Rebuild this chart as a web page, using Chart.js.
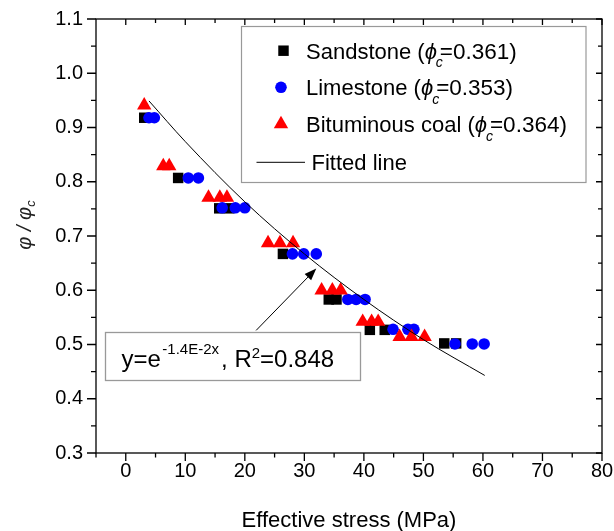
<!DOCTYPE html>
<html>
<head>
<meta charset="UTF-8">
<title>Porosity ratio vs effective stress</title>
<script src="https://cdn.jsdelivr.net/npm/chart.js"></script>
<style>
  body { margin: 0; background: #fff; }
  canvas { display: block; }
</style>
</head>
<body>
<canvas id="stressChart" width="614" height="531"></canvas>
<script>
// axis ticks
const xTicks = [0, 10, 20, 30, 40, 50, 60, 70, 80];
const yTicks = [0.3, 0.4, 0.5, 0.6, 0.7, 0.8, 0.9, 1.0, 1.1];

const sandX = [3.1, 8.8, 15.7, 17.4, 26.4, 34.1, 35.4, 41.0, 43.5, 53.5, 55.5];
const sandY = [0.918, 0.807, 0.751, 0.751, 0.667, 0.583, 0.583, 0.527, 0.527, 0.502, 0.502];
const limeX = [3.9, 4.8, 10.5, 12.2, 16.2, 18.4, 20.0, 28.0, 29.9, 32.0, 37.3, 38.7, 40.2, 44.9, 47.4, 48.4, 55.3, 58.2, 60.2];
const limeY = [0.918, 0.918, 0.807, 0.807, 0.752, 0.752, 0.752, 0.667, 0.667, 0.667, 0.583, 0.583, 0.583, 0.528, 0.528, 0.528, 0.501, 0.501, 0.501];
const coalX = [3.1, 6.3, 7.3, 13.9, 15.8, 17.0, 23.9, 25.9, 28.1, 32.9, 34.7, 36.1, 39.8, 41.3, 42.4, 46.0, 48.0, 50.2];
const coalY = [0.941, 0.829, 0.829, 0.771, 0.771, 0.771, 0.687, 0.687, 0.687, 0.600, 0.600, 0.600, 0.542, 0.542, 0.542, 0.514, 0.514, 0.514];

// fitted curve, points
const fitX = [3.9, 10, 20, 30, 40, 50, 60.3];
const fitY = [0.949, 0.874, 0.763, 0.667, 0.583, 0.509, 0.443];

const seriesNames = ['Sandstone', 'Limestone', 'Bituminous coal'];
const phiC = ['0.361', '0.353', '0.364'];
const fitExponent = '-1.4E-2x';
const fitR2 = '0.848';

const FONT = '"Liberation Sans", Arial, sans-serif';

function pts(xs, ys) {
    return xs.map((v, i) => ({x: v, y: ys[i]}));
}

const markers = [
    {style: 'rect', color: '#000000', radius: 7.4},
    {style: 'circle', color: '#0000ff', radius: 5.8},
    {style: 'triangle', color: '#ff0000', radius: 8.3}
];

// frame, minor ticks, mirrored ticks, titles, legend, equation
const framePlugin = {
    id: 'frame',
    afterDraw(chart) {
        const {ctx, chartArea: a, scales: {x, y}} = chart;
        ctx.save();
        ctx.strokeStyle = '#000';
        ctx.lineWidth = 1.3;
        ctx.strokeRect(a.left, a.top, a.right - a.left, a.bottom - a.top);
        ctx.beginPath();
        xTicks.forEach(v => {
            const px = x.getPixelForValue(v);
            ctx.moveTo(px, a.bottom); ctx.lineTo(px, a.bottom + 8);
            ctx.moveTo(px, a.top); ctx.lineTo(px, a.top + 6);
        });
        for (let i = 0; i < xTicks.length - 1; i++) {
            const px = x.getPixelForValue((xTicks[i] + xTicks[i + 1]) / 2);
            ctx.moveTo(px, a.bottom); ctx.lineTo(px, a.bottom + 4.5);
            ctx.moveTo(px, a.top); ctx.lineTo(px, a.top + 4);
        }
        const pm = x.getPixelForValue(-5);
        ctx.moveTo(pm, a.bottom); ctx.lineTo(pm, a.bottom + 4.5);
        yTicks.forEach(v => {
            const py = y.getPixelForValue(v);
            ctx.moveTo(a.left, py); ctx.lineTo(a.left - 9, py);
            ctx.moveTo(a.right, py); ctx.lineTo(a.right - 6, py);
        });
        for (let i = 0; i < yTicks.length - 1; i++) {
            const py = y.getPixelForValue((yTicks[i] + yTicks[i + 1]) / 2);
            ctx.moveTo(a.left, py); ctx.lineTo(a.left - 5, py);
            ctx.moveTo(a.right, py); ctx.lineTo(a.right - 4, py);
        }
        ctx.stroke();

        // axis titles
        ctx.fillStyle = '#000';
        ctx.font = '22px ' + FONT;
        ctx.textAlign = 'center';
        ctx.textBaseline = 'alphabetic';
        ctx.fillText('Effective stress (MPa)', (a.left + a.right) / 2, 527);
        ctx.textAlign = 'left';

        ctx.save();
        ctx.translate(31, 225);
        ctx.rotate(-Math.PI / 2);
        ctx.font = 'italic 20px ' + FONT;
        const main = 'φ / φ';
        const wMain = ctx.measureText(main).width;
        ctx.font = 'italic 13px ' + FONT;
        const wSub = ctx.measureText('c').width;
        const x0 = -(wMain + wSub) / 2;
        ctx.font = 'italic 20px ' + FONT;
        ctx.fillStyle = '#222';
        ctx.fillText(main, x0, 0);
        ctx.font = 'italic 13px ' + FONT;
        ctx.fillText('c', x0 + wMain, 4);
        ctx.restore();

        // legend
        ctx.strokeStyle = '#999';
        ctx.lineWidth = 1.2;
        ctx.strokeRect(241.5, 26.5, 344.5, 156);
        const rowsY = [50.7, 87.3, 124];
        const markX = [283.5, 281, 281];
        markers.forEach((m, i) => {
            ctx.fillStyle = m.color;
            ctx.strokeStyle = m.color;
            Chart.helpers.drawPoint(ctx, {pointStyle: m.style, radius: m.radius, borderWidth: 0, rotation: 0}, markX[i], rowsY[i]);
            ctx.fillStyle = '#000';
            ctx.textAlign = 'left';
            ctx.font = '22px ' + FONT;
            const base = rowsY[i] + 8;
            let tx = 306;
            const head = seriesNames[i] + ' (';
            ctx.fillText(head, tx, base);
            tx += ctx.measureText(head).width;
            ctx.font = 'italic 22px ' + FONT;
            ctx.fillText('ϕ', tx, base);
            tx += ctx.measureText('ϕ').width;
            ctx.font = 'italic 14px ' + FONT;
            ctx.fillText('c', tx - 1, base + 8.5);
            ctx.font = '22.5px ' + FONT;
            ctx.fillText('=' + phiC[i] + ')', tx + 3, base);
        });
        ctx.strokeStyle = '#000';
        ctx.lineWidth = 1;
        ctx.beginPath();
        ctx.moveTo(256.5, 162.3); ctx.lineTo(305, 162.3);
        ctx.stroke();
        ctx.fillStyle = '#000';
        ctx.font = '22px ' + FONT;
        ctx.fillText('Fitted line', 311.5, 170.3);

        // equation box and arrow
        ctx.strokeStyle = '#999';
        ctx.lineWidth = 1.3;
        ctx.fillStyle = '#fff';
        ctx.fillRect(105.5, 332.5, 255, 48);
        ctx.strokeRect(105.5, 332.5, 255, 48);
        ctx.fillStyle = '#000';
        let ex = 121.5;
        const eb = 367.3;
        ctx.font = '24px ' + FONT;
        ctx.fillText('y=e', ex, eb);
        ex += ctx.measureText('y=e').width + 1.5;
        ctx.font = '15px ' + FONT;
        ctx.fillText(fitExponent, ex, eb - 13.5);
        ex += ctx.measureText(fitExponent).width + 2;
        ctx.font = '24px ' + FONT;
        ctx.fillText(', R', ex, eb);
        ex += ctx.measureText(', R').width;
        ctx.font = '15px ' + FONT;
        ctx.fillText('2', ex, eb - 9);
        ex += ctx.measureText('2').width;
        ctx.font = '24px ' + FONT;
        ctx.fillText('=' + fitR2, ex, eb);

        const ax0 = x.getPixelForValue(21.9), ay0 = y.getPixelForValue(0.526);
        const ax1 = x.getPixelForValue(32.0), ay1 = y.getPixelForValue(0.640);
        const ang = Math.atan2(ay1 - ay0, ax1 - ax0);
        ctx.strokeStyle = '#000';
        ctx.lineWidth = 1;
        ctx.beginPath();
        ctx.moveTo(ax0, ay0);
        ctx.lineTo(ax1 - 8 * Math.cos(ang), ay1 - 8 * Math.sin(ang));
        ctx.stroke();
        ctx.beginPath();
        ctx.moveTo(ax1, ay1);
        ctx.lineTo(ax1 - 12 * Math.cos(ang) + 4.5 * Math.sin(ang), ay1 - 12 * Math.sin(ang) - 4.5 * Math.cos(ang));
        ctx.lineTo(ax1 - 12 * Math.cos(ang) - 4.5 * Math.sin(ang), ay1 - 12 * Math.sin(ang) + 4.5 * Math.cos(ang));
        ctx.closePath();
        ctx.fill();
        ctx.restore();
    }
};

const ctx = document.getElementById('stressChart').getContext('2d');
const stressChart = new Chart(ctx, {
    type: 'scatter',
    data: {
        datasets: [
            {
                label: 'Fitted line',
                data: pts(fitX, fitY),
                showLine: true,
                borderColor: '#000',
                borderWidth: 1,
                pointRadius: 0,
                cubicInterpolationMode: 'monotone'
            },
            {
                label: seriesNames[2],
                data: pts(coalX, coalY),
                pointStyle: 'triangle',
                pointRadius: markers[2].radius,
                backgroundColor: markers[2].color,
                borderColor: markers[2].color,
                borderWidth: 0
            },
            {
                label: seriesNames[1],
                data: pts(limeX, limeY),
                pointStyle: 'circle',
                pointRadius: markers[1].radius,
                backgroundColor: markers[1].color,
                borderColor: markers[1].color,
                borderWidth: 0
            },
            {
                label: seriesNames[0],
                data: pts(sandX, sandY),
                pointStyle: 'rect',
                pointRadius: markers[0].radius,
                backgroundColor: markers[0].color,
                borderColor: markers[0].color,
                borderWidth: 0
            }
        ]
    },
    options: {
        responsive: false,
        animation: false,
        events: [],
        layout: {padding: {left: 0, right: 12, top: 19, bottom: 0}},
        plugins: {legend: {display: false}, tooltip: {enabled: false}},
        scales: {
            x: {
                type: 'linear',
                min: -5,
                max: 80,
                grid: {display: false, drawTicks: false},
                border: {display: false},
                afterBuildTicks: s => { s.ticks = xTicks.map(v => ({value: v})); },
                afterFit: s => { s.height = 78; s.paddingLeft = 0; s.paddingRight = 0; },
                ticks: {
                    color: '#000',
                    padding: 6,
                    maxRotation: 0,
                    autoSkip: false,
                    font: {family: FONT, size: 20}
                }
            },
            y: {
                type: 'linear',
                min: 0.3,
                max: 1.1,
                grid: {display: false, drawTicks: false},
                border: {display: false},
                afterBuildTicks: s => { s.ticks = yTicks.map(v => ({value: v})); },
                afterFit: s => { s.width = 96; s.paddingTop = 0; s.paddingBottom = 0; },
                ticks: {
                    color: '#000',
                    padding: 13,
                    autoSkip: false,
                    font: {family: FONT, size: 20},
                    callback: v => v.toFixed(1)
                }
            }
        }
    },
    plugins: [framePlugin]
});
</script>
</body>
</html>
